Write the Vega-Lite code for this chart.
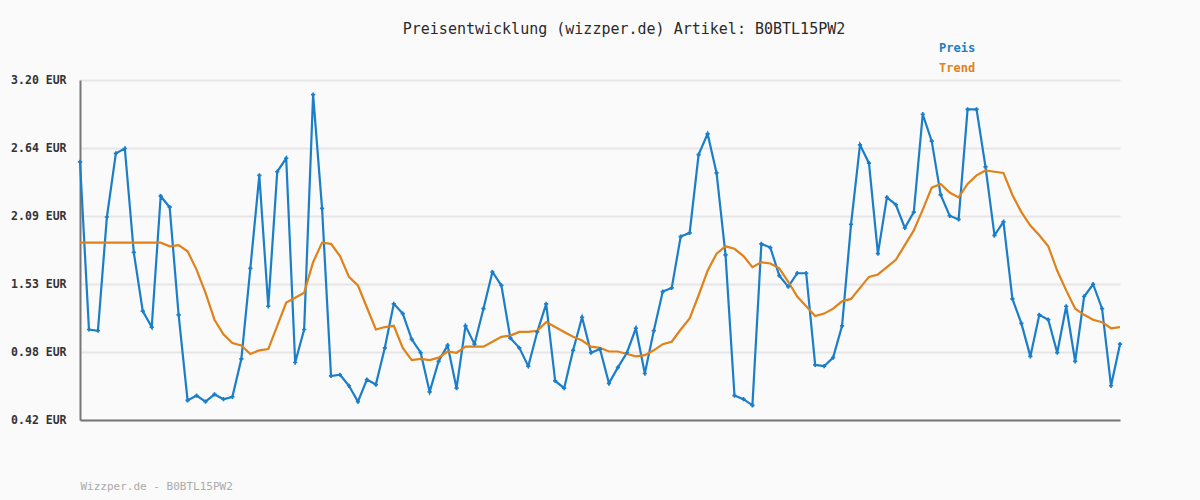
{
  "$schema": "https://vega.github.io/schema/vega-lite/v6.json",
  "width": 1040,
  "height": 340,
  "autosize": "none",
  "padding": {"left": 80, "top": 80, "right": 80, "bottom": 80},
  "background": "#fafafa",
  "config": {"view": {"stroke": null}, "font": "DejaVu Sans Mono"},
  "title": {
    "text": "Preisentwicklung (wizzper.de) Artikel: B0BTL15PW2",
    "font": "DejaVu Sans Mono",
    "fontSize": 15,
    "fontWeight": "normal",
    "color": "#2a2a2a",
    "anchor": "middle",
    "frame": "group",
    "dx": 24,
    "offset": 5
  },
  "data": {"values": [
    {"t":0,"Preis":2.53,"Trend":1.87},{"t":1,"Preis":1.16,"Trend":1.87},{"t":2,"Preis":1.15,"Trend":1.87},{"t":3,"Preis":2.08,"Trend":1.87},{"t":4,"Preis":2.60,"Trend":1.87},{"t":5,"Preis":2.64,"Trend":1.87},{"t":6,"Preis":1.79,"Trend":1.87},{"t":7,"Preis":1.31,"Trend":1.87},{"t":8,"Preis":1.18,"Trend":1.87},{"t":9,"Preis":2.25,"Trend":1.87},
    {"t":10,"Preis":2.16,"Trend":1.84},{"t":11,"Preis":1.28,"Trend":1.85},{"t":12,"Preis":0.58,"Trend":1.80},{"t":13,"Preis":0.62,"Trend":1.65},{"t":14,"Preis":0.57,"Trend":1.46},{"t":15,"Preis":0.63,"Trend":1.24},{"t":16,"Preis":0.59,"Trend":1.12},{"t":17,"Preis":0.61,"Trend":1.05},{"t":18,"Preis":0.92,"Trend":1.03},{"t":19,"Preis":1.66,"Trend":0.96},
    {"t":20,"Preis":2.42,"Trend":0.99},{"t":21,"Preis":1.35,"Trend":1.00},{"t":22,"Preis":2.45,"Trend":1.19},{"t":23,"Preis":2.56,"Trend":1.38},{"t":24,"Preis":0.89,"Trend":1.42},{"t":25,"Preis":1.16,"Trend":1.46},{"t":26,"Preis":3.08,"Trend":1.71},{"t":27,"Preis":2.15,"Trend":1.87},{"t":28,"Preis":0.78,"Trend":1.86},{"t":29,"Preis":0.79,"Trend":1.76},
    {"t":30,"Preis":0.70,"Trend":1.59},{"t":31,"Preis":0.57,"Trend":1.52},{"t":32,"Preis":0.75,"Trend":1.34},{"t":33,"Preis":0.71,"Trend":1.16},{"t":34,"Preis":1.01,"Trend":1.18},{"t":35,"Preis":1.37,"Trend":1.19},{"t":36,"Preis":1.29,"Trend":1.01},{"t":37,"Preis":1.08,"Trend":0.91},{"t":38,"Preis":0.97,"Trend":0.92},{"t":39,"Preis":0.65,"Trend":0.91},
    {"t":40,"Preis":0.90,"Trend":0.93},{"t":41,"Preis":1.03,"Trend":0.98},{"t":42,"Preis":0.68,"Trend":0.97},{"t":43,"Preis":1.19,"Trend":1.02},{"t":44,"Preis":1.04,"Trend":1.02},{"t":45,"Preis":1.33,"Trend":1.02},{"t":46,"Preis":1.63,"Trend":1.06},{"t":47,"Preis":1.52,"Trend":1.10},{"t":48,"Preis":1.09,"Trend":1.11},{"t":49,"Preis":1.01,"Trend":1.14},
    {"t":50,"Preis":0.86,"Trend":1.14},{"t":51,"Preis":1.14,"Trend":1.15},{"t":52,"Preis":1.37,"Trend":1.22},{"t":53,"Preis":0.74,"Trend":1.18},{"t":54,"Preis":0.68,"Trend":1.14},{"t":55,"Preis":0.99,"Trend":1.10},{"t":56,"Preis":1.26,"Trend":1.07},{"t":57,"Preis":0.97,"Trend":1.02},{"t":58,"Preis":1.00,"Trend":1.01},{"t":59,"Preis":0.72,"Trend":0.98},
    {"t":60,"Preis":0.85,"Trend":0.98},{"t":61,"Preis":0.97,"Trend":0.96},{"t":62,"Preis":1.17,"Trend":0.94},{"t":63,"Preis":0.80,"Trend":0.95},{"t":64,"Preis":1.15,"Trend":0.99},{"t":65,"Preis":1.47,"Trend":1.04},{"t":66,"Preis":1.50,"Trend":1.06},{"t":67,"Preis":1.92,"Trend":1.16},{"t":68,"Preis":1.95,"Trend":1.25},{"t":69,"Preis":2.59,"Trend":1.44},
    {"t":70,"Preis":2.76,"Trend":1.64},{"t":71,"Preis":2.44,"Trend":1.78},{"t":72,"Preis":1.77,"Trend":1.84},{"t":73,"Preis":0.62,"Trend":1.82},{"t":74,"Preis":0.59,"Trend":1.76},{"t":75,"Preis":0.54,"Trend":1.67},{"t":76,"Preis":1.86,"Trend":1.71},{"t":77,"Preis":1.83,"Trend":1.70},{"t":78,"Preis":1.60,"Trend":1.66},{"t":79,"Preis":1.51,"Trend":1.55},
    {"t":80,"Preis":1.62,"Trend":1.43},{"t":81,"Preis":1.62,"Trend":1.35},{"t":82,"Preis":0.87,"Trend":1.27},{"t":83,"Preis":0.86,"Trend":1.29},{"t":84,"Preis":0.93,"Trend":1.33},{"t":85,"Preis":1.19,"Trend":1.39},{"t":86,"Preis":2.02,"Trend":1.41},{"t":87,"Preis":2.67,"Trend":1.50},{"t":88,"Preis":2.52,"Trend":1.59},{"t":89,"Preis":1.78,"Trend":1.61},
    {"t":90,"Preis":2.24,"Trend":1.67},{"t":91,"Preis":2.18,"Trend":1.73},{"t":92,"Preis":1.99,"Trend":1.85},{"t":93,"Preis":2.12,"Trend":1.97},{"t":94,"Preis":2.92,"Trend":2.14},{"t":95,"Preis":2.70,"Trend":2.32},{"t":96,"Preis":2.26,"Trend":2.35},{"t":97,"Preis":2.09,"Trend":2.28},{"t":98,"Preis":2.06,"Trend":2.24},{"t":99,"Preis":2.96,"Trend":2.35},
    {"t":100,"Preis":2.96,"Trend":2.42},{"t":101,"Preis":2.49,"Trend":2.46},{"t":102,"Preis":1.93,"Trend":2.45},{"t":103,"Preis":2.04,"Trend":2.44},{"t":104,"Preis":1.41,"Trend":2.26},{"t":105,"Preis":1.21,"Trend":2.12},{"t":106,"Preis":0.94,"Trend":2.01},{"t":107,"Preis":1.28,"Trend":1.93},{"t":108,"Preis":1.24,"Trend":1.84},{"t":109,"Preis":0.97,"Trend":1.64},
    {"t":110,"Preis":1.35,"Trend":1.48},{"t":111,"Preis":0.90,"Trend":1.33},{"t":112,"Preis":1.43,"Trend":1.28},{"t":113,"Preis":1.53,"Trend":1.24},{"t":114,"Preis":1.33,"Trend":1.22},{"t":115,"Preis":0.70,"Trend":1.17},{"t":116,"Preis":1.04,"Trend":1.18}
  ]},
  "transform": [{"fold": ["Preis", "Trend"], "as": ["serie", "wert"]}],
  "encoding": {
    "x": {
      "field": "t", "type": "quantitative",
      "scale": {"domain": [0, 116], "nice": false, "zero": false},
      "axis": {
        "title": "Wizzper.de - B0BTL15PW2",
        "titleFont": "DejaVu Sans Mono", "titleFontSize": 11, "titleFontWeight": "normal",
        "titleColor": "#aaaaaa", "titleAnchor": "start", "titleAlign": "left", "titlePadding": 60,
        "labels": false, "ticks": false, "grid": false,
        "domainColor": "#777777", "domainWidth": 2
      }
    },
    "y": {
      "field": "wert", "type": "quantitative",
      "scale": {"domain": [0.42, 3.2], "nice": false, "zero": false},
      "axis": {
        "title": null,
        "values": [0.42, 0.976, 1.532, 2.088, 2.644, 3.2],
        "labelExpr": "format(datum.value, '.2f') + ' EUR'",
        "labelFont": "DejaVu Sans Mono", "labelFontSize": 11.5, "labelFontWeight": "bold",
        "labelColor": "#333333", "labelPadding": 14,
        "ticks": false,
        "grid": true, "gridColor": "#e6e6e6", "gridWidth": 2,
        "domainColor": "#777777", "domainWidth": 2
      }
    },
    "color": {
      "field": "serie", "type": "nominal",
      "scale": {"domain": ["Preis", "Trend"], "range": ["#1a7ec9", "#e0821a"]},
      "legend": {
        "title": null, "orient": "none", "legendX": 847, "legendY": -38,
        "symbolSize": 0, "symbolStrokeWidth": 0, "symbolOpacity": 0, "labelOffset": 0,
        "labelFont": "DejaVu Sans Mono", "labelFontSize": 12, "labelFontWeight": "bold",
        "rowPadding": 8,
        "encode": {"labels": {"update": {"fill": {"scale": "color", "field": "value"}}}}
      }
    }
  },
  "layer": [
    {"mark": {"type": "line", "strokeWidth": 2.2}},
    {
      "transform": [{"filter": "datum.serie == 'Preis'"}],
      "mark": {"type": "point", "shape": "cross", "filled": true, "size": 18, "opacity": 1}
    }
  ]
}
